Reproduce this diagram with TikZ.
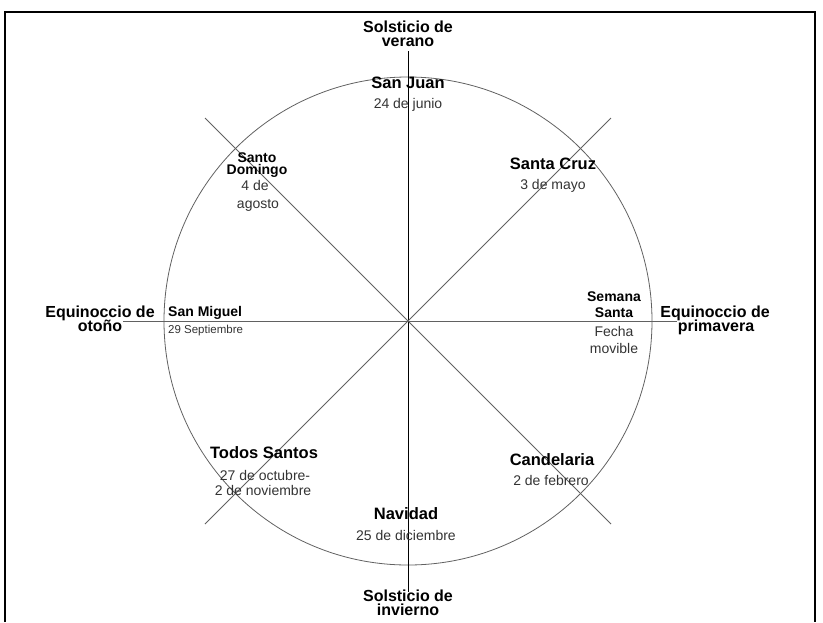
\documentclass[tikz,border=0pt]{standalone}
\usepackage{fontspec}
\setmainfont{Liberation Sans}
\begin{document}
\begin{tikzpicture}
[x=1pt,y=-1pt,
  lineDecorate/.style={-,draw=black!62,line width=0.8pt},
  axisDecorate/.style={-,draw=black,line width=0.8pt},
  frameDecorate/.style={draw=black,line width=1.4pt},
  seasonDecorate/.style={font=\fontsize{16}{13}\selectfont\bfseries,inner sep=0pt,anchor=base},
  feastDecorate/.style={font=\fontsize{16.5}{16}\selectfont\bfseries,inner sep=0pt,anchor=base},
  smallDecorate/.style={font=\fontsize{14}{12}\selectfont\bfseries,inner sep=0pt,anchor=base},
  dateDecorate/.style={font=\fontsize{14}{16}\selectfont,text=black!80,inner sep=0pt,anchor=base},
  tinyDecorate/.style={font=\fontsize{11.5}{12}\selectfont,text=black!80,inner sep=0pt,anchor=base west}]
\useasboundingbox (0,0) rectangle (823,622);
%% frame
\draw[frameDecorate] (5,622) |- (815,12) -- (815,622);
%% wheel and its axes
\coordinate (centre) at (408,321);
\node (wheel) at (centre) [circle,draw,lineDecorate,minimum size=488pt,inner sep=0pt] {};
\foreach \nodename/\x/\y in {
  n/408/51, s/408/592, w/123/321, e/677/321,
  nw/205/118, se/611/524, ne/611/118, sw/205/524}
{
  \coordinate (\nodename) at (\x,\y);
}
\draw[axisDecorate] (n) -- (s);
\path
\foreach \startnode/\endnode in {w/e, nw/se, ne/sw}
{
  (\startnode) edge[lineDecorate] (\endnode)
};
%% solstices and equinoxes
\foreach \nodename/\x/\y/\txt in {
  verano1/408/32/{Solsticio de}, verano2/408/46/verano,
  invierno1/408/601/{Solsticio de}, invierno2/408/615/invierno,
  otono1/100/317/{Equinoccio de}, otono2/100/331/otoño,
  primavera1/715/317/{Equinoccio de}, primavera2/716/331/primavera}
{
  \node (\nodename) at (\x,\y) [seasonDecorate] {\txt};
}
%% feasts
\foreach \nodename/\x/\y/\txt in {
  sanjuan/408/88/{San Juan}, santacruz/553/169/{Santa Cruz},
  todossantos/264/458/{Todos Santos}, candelaria/552/465/Candelaria,
  navidad/406/519/Navidad}
{
  \node (\nodename) at (\x,\y) [feastDecorate] {\txt};
}
\foreach \nodename/\x/\y/\txt in {
  domingo1/257/162/Santo, domingo2/257/174/Domingo,
  semana1/614/301/Semana, semana2/614/317/Santa}
{
  \node (\nodename) at (\x,\y) [smallDecorate] {\txt};
}
\node (miguel) at (168,316) [smallDecorate,anchor=base west] {San Miguel};
%% dates
\foreach \nodename/\x/\y/\txt in {
  sanjuanD/408/108/{24 de junio}, santacruzD/553/189/{3 de mayo},
  domingoD1/255/190/{4 de}, domingoD2/258/208/agosto,
  semanaD1/614/336/Fecha, semanaD2/614/353/movible,
  todossantosD1/265/480/{27 de octubre-}, todossantosD2/263/495/{2 de noviembre},
  candelariaD/551/485/{2 de febrero}, navidadD/406/540/{25 de diciembre}}
{
  \node (\nodename) at (\x,\y) [dateDecorate] {\txt};
}
\node (miguelD) at (168,333) [tinyDecorate] {29 Septiembre};
\end{tikzpicture}
\end{document}
